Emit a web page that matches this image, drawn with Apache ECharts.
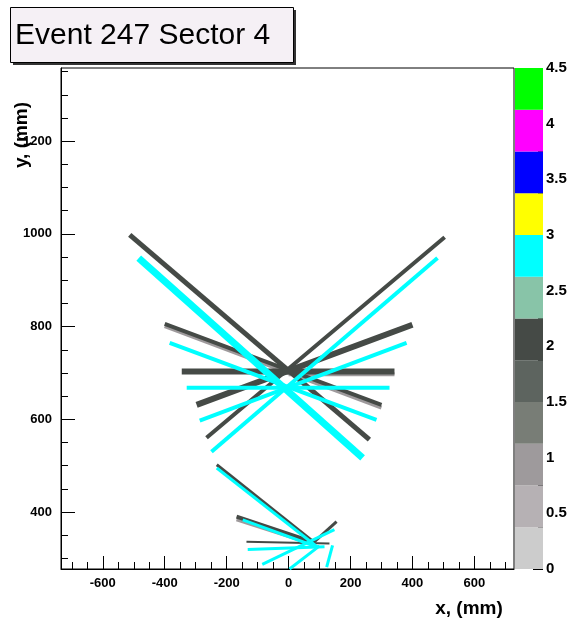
<!DOCTYPE html>
<html><head><meta charset="utf-8">
<script src="https://cdn.jsdelivr.net/npm/echarts@6/dist/echarts.min.js"></script>
<style>html,body{margin:0;padding:0;background:#fff}#c{width:572px;height:619px}</style>
</head><body><div id="c"></div>
<script>
// ---- text ----
const titleText = 'Event 247 Sector 4';
const xTitle = 'x, (mm)';
const yTitle = 'y, (mm)';
// ---- axes ----
const xRange = [-735, 728];
const yRange = [277, 1358];
const xMajorTicks = [-600, -400, -200, 0, 200, 400, 600];
const yMajorTicks = [400, 600, 800, 1000, 1200];
const minorStep = 50;
const zRange = [0, 4.5];
const zTickLabels = ['0', '0.5', '1', '1.5', '2', '2.5', '3', '3.5', '4', '4.5'];
// ---- palette (12 bands from 0 to 4.5) ----
const paletteColors = ['#cccccc', '#b6b1b4', '#9e9a9c', '#787d76', '#5d645f', '#454a46',
  '#88c4a8', '#00ffff', '#ffff00', '#0000ff', '#ff00ff', '#00ff00'];
// ---- track segments (mm) and their values ----
const trackX1 = [-400, 0, -168, -513, 504, -400, 400, -345, -232, -168, 155, -136, -484, 481, -384, 381, -329, -232, -132, -85, 3, 123, -148];
const trackY1 = [801, 697, 384, 998, 993, 806, 804, 703, 502, 390, 379, 336, 948, 948, 765, 765, 668, 495, 319, 287, 277, 281, 383];
const trackX2 = [300, 342, 84, 261, -265, 300, -297, 342, 84, 84, 74, 132, 239, -249, 284, -287, 326, 94, 116, 148, 100, 142, 94];
const trackY2 = [625, 697, 330, 556, 560, 631, 631, 703, 334, 334, 330, 332, 517, 530, 599, 597, 668, 324, 325, 362, 327, 328, 324];
const trackValue = [1.0, 1.0, 1.0, 2.0, 2.0, 2.0, 2.0, 2.0, 2.0, 2.0, 2.0, 2.0, 2.8, 2.8, 2.8, 2.8, 2.8, 2.8, 2.8, 2.8, 2.8, 2.8, 2.8];
// style: stroke width per track (px)
const trackWidth = [4, 4, 4, 5, 4, 4, 6, 6, 3, 4, 3, 2, 7, 4, 4, 4, 4, 3, 3, 3, 3, 3, 3];

const FONT = 'Liberation Sans, Arial, Helvetica, sans-serif';
const nBands = paletteColors.length;
const bandStep = (zRange[1] - zRange[0]) / nBands;
function colorOf(v) {
  let i = Math.floor((v - zRange[0]) / bandStep);
  i = Math.max(0, Math.min(nBands - 1, i));
  return paletteColors[i];
}
function minorTicks(range, majors) {
  const out = [];
  const start = Math.ceil(range[0] / minorStep) * minorStep;
  for (let v = start; v <= range[1]; v += minorStep) {
    if (majors.indexOf(v) < 0) out.push(v);
  }
  return out;
}
const xMinor = minorTicks(xRange, xMajorTicks);
const yMinor = minorTicks(yRange, yMajorTicks);

const labelStyle = { fontFamily: FONT, fontWeight: 'bold', fontSize: 13, color: '#000',
  formatter: function (v) { return String(v); } };

const series = [];
for (let i = 0; i < trackX1.length; i++) {
  series.push({
    type: 'line', xAxisIndex: 0, yAxisIndex: 0,
    data: [[trackX1[i], trackY1[i]], [trackX2[i], trackY2[i]]],
    symbol: 'none', silent: true, animation: false,
    lineStyle: { color: colorOf(trackValue[i]), width: trackWidth[i], cap: 'butt' },
    z: 3
  });
}
for (let b = 0; b < nBands; b++) {
  series.push({
    type: 'bar', xAxisIndex: 2, yAxisIndex: 2, stack: 'palette',
    data: [bandStep], barWidth: '100%', silent: true, animation: false,
    itemStyle: { color: paletteColors[b] }
  });
}

const chart = echarts.init(document.getElementById('c'), null, { renderer: 'canvas' });
chart.setOption({
  backgroundColor: '#fff',
  animation: false,
  grid: [
    { left: 61, top: 68, width: 453, height: 501, show: true, borderColor: '#000', borderWidth: 1, backgroundColor: 'transparent' },
    { left: 515, top: 68, width: 28, height: 501, show: false }
  ],
  xAxis: [
    { gridIndex: 0, type: 'value', min: xRange[0], max: xRange[1], position: 'bottom',
      axisLine: { show: true, onZero: false, lineStyle: { color: '#000', width: 1 } },
      axisTick: { show: true, inside: true, length: 13, customValues: xMajorTicks, lineStyle: { color: '#000' } },
      axisLabel: Object.assign({ customValues: xMajorTicks, margin: 8 }, labelStyle),
      splitLine: { show: false } },
    { gridIndex: 0, type: 'value', min: xRange[0], max: xRange[1], position: 'bottom',
      axisLine: { show: false, onZero: false },
      axisTick: { show: true, inside: true, length: 7, customValues: xMinor, lineStyle: { color: '#000' } },
      axisLabel: { show: false }, splitLine: { show: false } },
    { gridIndex: 1, type: 'category', data: ['z'], show: false }
  ],
  yAxis: [
    { gridIndex: 0, type: 'value', min: yRange[0], max: yRange[1], position: 'left',
      axisLine: { show: true, onZero: false, lineStyle: { color: '#000', width: 1 } },
      axisTick: { show: true, inside: true, length: 14, customValues: yMajorTicks, lineStyle: { color: '#000' } },
      axisLabel: Object.assign({ customValues: yMajorTicks, margin: 9 }, labelStyle),
      splitLine: { show: false } },
    { gridIndex: 0, type: 'value', min: yRange[0], max: yRange[1], position: 'left',
      axisLine: { show: false, onZero: false },
      axisTick: { show: true, inside: true, length: 7, customValues: yMinor, lineStyle: { color: '#000' } },
      axisLabel: { show: false }, splitLine: { show: false } },
    { gridIndex: 1, type: 'value', min: zRange[0], max: zRange[1], interval: 0.5, position: 'right',
      axisLine: { show: false, onZero: false },
      axisTick: { show: true, inside: true, length: 10, lineStyle: { color: '#000' } },
      minorTick: { show: true, splitNumber: 4, length: 5, lineStyle: { color: '#000' } },
      axisLabel: { margin: 3, fontFamily: FONT, fontWeight: 'bold', fontSize: 15, color: '#000',
        formatter: function (v) { return zTickLabels[Math.round(v / 0.5)]; } },
      splitLine: { show: false } }
  ],
  graphic: [
    { type: 'rect', left: 13, top: 10, shape: { width: 283, height: 55 }, style: { fill: '#333' }, z: 10 },
    { type: 'rect', left: 10, top: 7, shape: { width: 283, height: 55 }, style: { fill: '#f5f0f5', stroke: '#000', lineWidth: 1 }, z: 11 },
    { type: 'text', x: 15, y: 36, style: { text: titleText, font: '30px ' + FONT, fill: '#000', verticalAlign: 'middle' }, z: 12 },
    { type: 'text', x: 469, y: 609, style: { text: xTitle, font: 'bold 19px ' + FONT, fill: '#000', align: 'center', verticalAlign: 'middle' }, z: 12 },
    { type: 'text', x: 22, y: 135, rotation: Math.PI / 2, style: { text: yTitle, font: 'bold 19px ' + FONT, fill: '#000', align: 'center', verticalAlign: 'middle' }, z: 12 }
  ],
  series: series
});
</script>
</body></html>
